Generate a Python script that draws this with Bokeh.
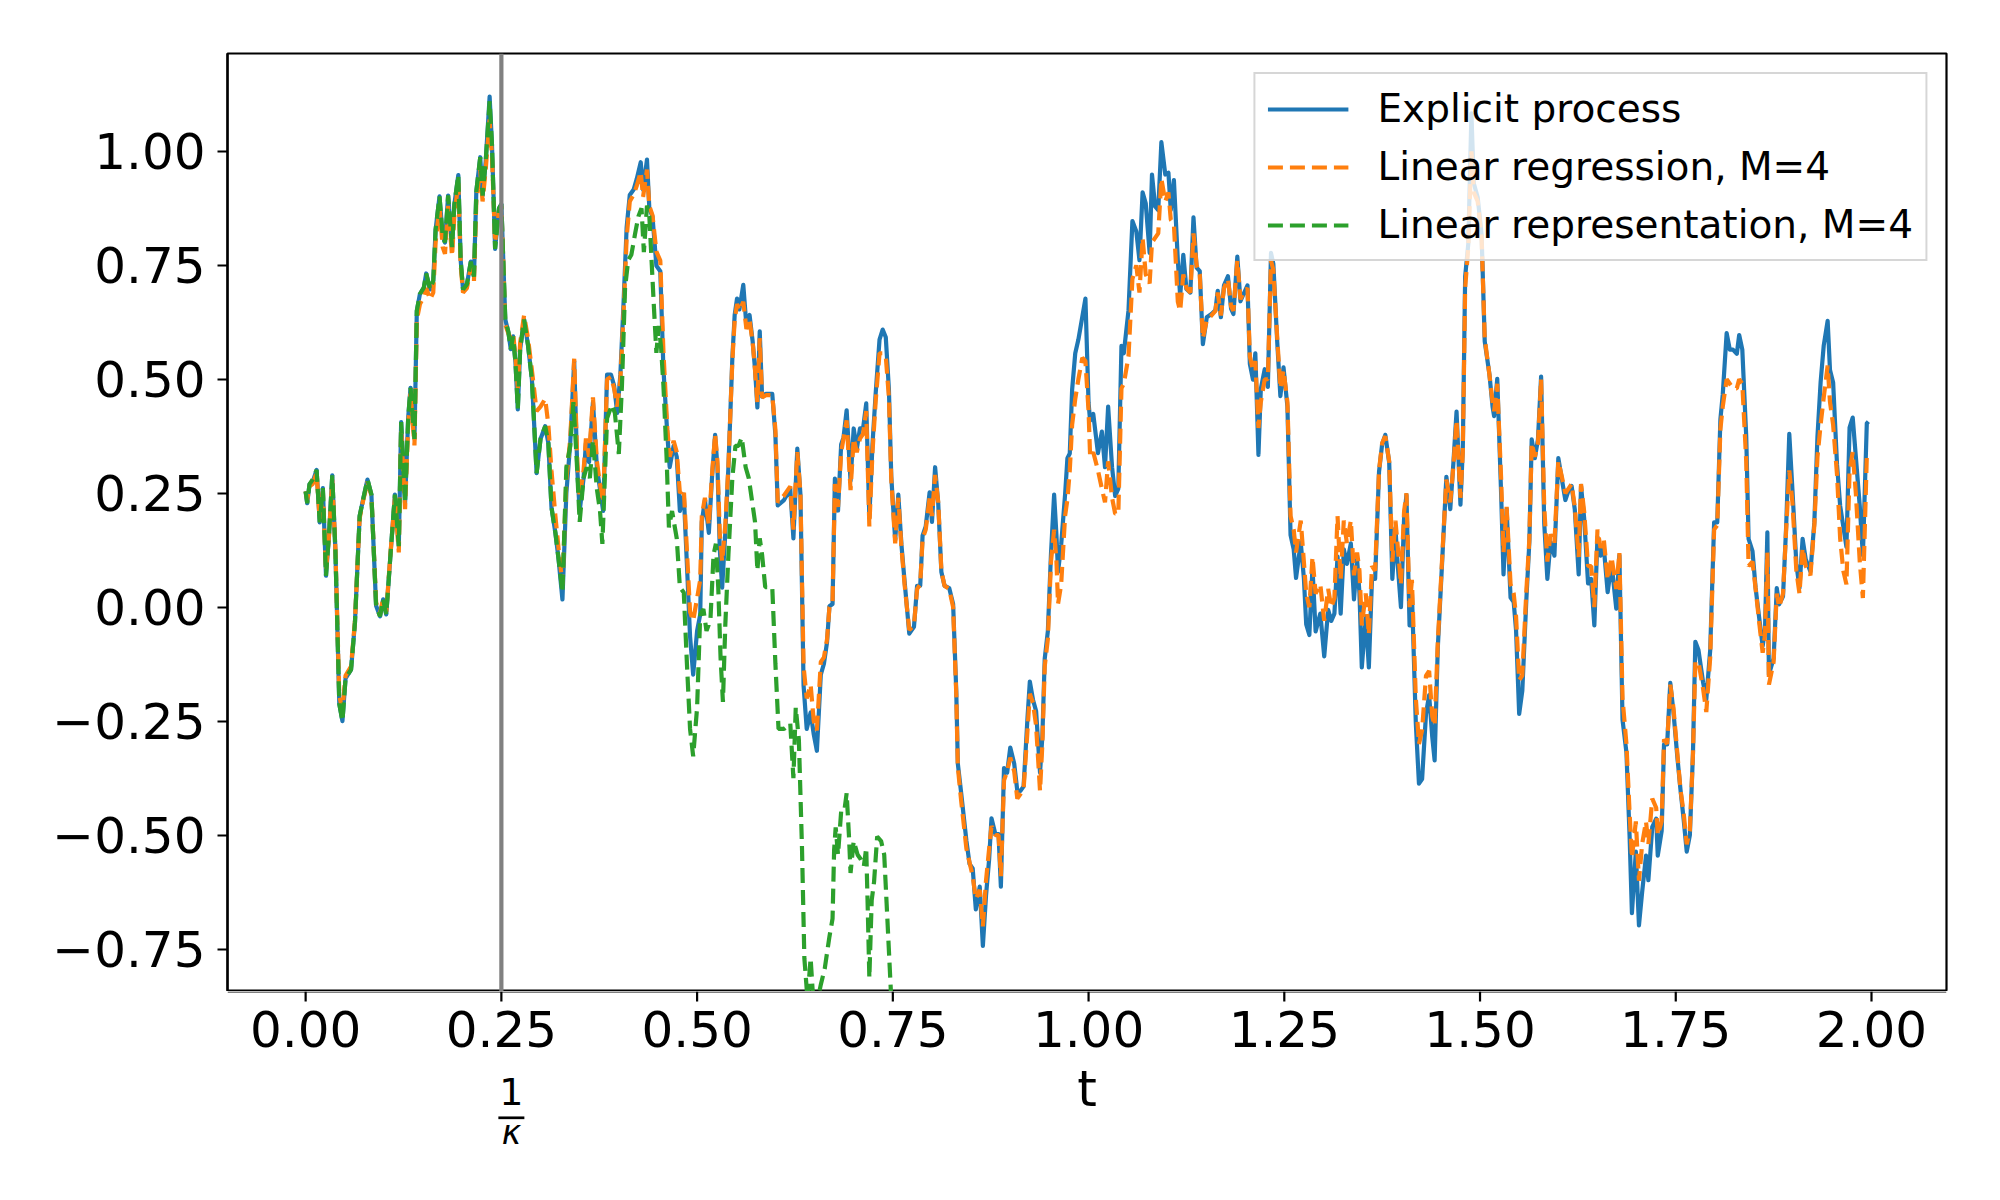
from bokeh.plotting import figure
from bokeh.layouts import column
from bokeh.models import (Range1d, FixedTicker, CustomJSTickFormatter, Span,
                          Legend, LegendItem)
from bokeh.core.properties import value
from bokeh.embed import file_html
from bokeh.resources import INLINE

# ---------------- data ----------------
t_explicit = [
    0.000, 0.002, 0.005, 0.009, 0.014, 0.018, 0.022, 0.026, 0.030, 0.034,
    0.038, 0.043, 0.047, 0.051, 0.058, 0.063, 0.069, 0.073, 0.079, 0.084,
    0.090, 0.095, 0.099, 0.103, 0.108, 0.114, 0.119, 0.122, 0.127, 0.131,
    0.134, 0.139, 0.142, 0.146, 0.151, 0.154, 0.159, 0.163, 0.166, 0.171,
    0.175, 0.178, 0.182, 0.187, 0.190, 0.195, 0.198, 0.201, 0.206, 0.211,
    0.215, 0.218, 0.223, 0.226, 0.230, 0.235, 0.238, 0.242, 0.247, 0.250,
    0.255, 0.259, 0.262, 0.265, 0.268, 0.271, 0.274, 0.279, 0.284, 0.289,
    0.295, 0.300, 0.306, 0.310, 0.314, 0.319, 0.323, 0.328, 0.333, 0.338,
    0.343, 0.347, 0.350, 0.355, 0.358, 0.362, 0.367, 0.372, 0.376, 0.380,
    0.385, 0.390, 0.394, 0.398, 0.402, 0.406, 0.410, 0.414, 0.419, 0.423,
    0.428, 0.431, 0.436, 0.439, 0.443, 0.448, 0.453, 0.457, 0.462, 0.465,
    0.470, 0.474, 0.478, 0.483, 0.488, 0.491, 0.495, 0.500, 0.504, 0.506,
    0.510, 0.515, 0.519, 0.523, 0.526, 0.529, 0.532, 0.536, 0.540, 0.545,
    0.548, 0.551, 0.554, 0.559, 0.563, 0.567, 0.571, 0.574, 0.577, 0.580,
    0.583, 0.588, 0.596, 0.600, 0.603, 0.611, 0.619, 0.623, 0.628, 0.632,
    0.636, 0.640, 0.645, 0.649, 0.653, 0.658, 0.662, 0.666, 0.669, 0.673,
    0.676, 0.680, 0.684, 0.687, 0.691, 0.696, 0.700, 0.704, 0.708, 0.712,
    0.716, 0.720, 0.724, 0.728, 0.733, 0.737, 0.741, 0.745, 0.748, 0.753,
    0.757, 0.761, 0.765, 0.771, 0.777, 0.781, 0.785, 0.788, 0.792, 0.797,
    0.800, 0.804, 0.808, 0.812, 0.816, 0.822, 0.827, 0.831, 0.833, 0.837,
    0.844, 0.848, 0.852, 0.856, 0.861, 0.865, 0.869, 0.873, 0.876, 0.881,
    0.885, 0.888, 0.892, 0.896, 0.900, 0.905, 0.909, 0.913, 0.917, 0.922,
    0.925, 0.929, 0.933, 0.938, 0.941, 0.944, 0.948, 0.952, 0.956, 0.959,
    0.961, 0.965, 0.970, 0.973, 0.976, 0.979, 0.983, 0.987, 0.992, 0.996,
    1.000, 1.002, 1.006, 1.012, 1.017, 1.021, 1.025, 1.030, 1.034, 1.038,
    1.042, 1.045, 1.051, 1.056, 1.061, 1.065, 1.069, 1.073, 1.078, 1.081,
    1.085, 1.089, 1.093, 1.098, 1.102, 1.105, 1.109, 1.114, 1.117, 1.121,
    1.125, 1.130, 1.134, 1.138, 1.142, 1.146, 1.151, 1.157, 1.162, 1.165,
    1.169, 1.173, 1.178, 1.182, 1.185, 1.190, 1.194, 1.198, 1.203, 1.206,
    1.210, 1.213, 1.217, 1.220, 1.225, 1.229, 1.233, 1.236, 1.241, 1.245,
    1.249, 1.254, 1.258, 1.262, 1.265, 1.271, 1.275, 1.278, 1.282, 1.286,
    1.290, 1.296, 1.301, 1.306, 1.310, 1.314, 1.318, 1.322, 1.326, 1.330,
    1.335, 1.339, 1.343, 1.346, 1.349, 1.354, 1.358, 1.362, 1.366, 1.371,
    1.375, 1.379, 1.384, 1.388, 1.392, 1.394, 1.399, 1.403, 1.406, 1.410,
    1.413, 1.418, 1.422, 1.426, 1.431, 1.435, 1.439, 1.442, 1.446, 1.452,
    1.457, 1.462, 1.466, 1.470, 1.475, 1.478, 1.481, 1.485, 1.489, 1.492,
    1.497, 1.502, 1.506, 1.512, 1.516, 1.518, 1.522, 1.527, 1.530, 1.534,
    1.539, 1.543, 1.546, 1.550, 1.554, 1.559, 1.563, 1.566, 1.570, 1.574,
    1.578, 1.582, 1.586, 1.590, 1.595, 1.600, 1.604, 1.609, 1.613, 1.617,
    1.621, 1.626, 1.629, 1.633, 1.638, 1.642, 1.646, 1.650, 1.654, 1.658,
    1.663, 1.668, 1.674, 1.678, 1.682, 1.687, 1.691, 1.694, 1.699, 1.703,
    1.707, 1.712, 1.715, 1.720, 1.725, 1.727, 1.732, 1.735, 1.739, 1.743,
    1.747, 1.752, 1.756, 1.760, 1.764, 1.768, 1.772, 1.775, 1.779, 1.785,
    1.789, 1.794, 1.799, 1.803, 1.807, 1.810, 1.815, 1.819, 1.823, 1.828,
    1.831, 1.835, 1.840, 1.843, 1.848, 1.852, 1.857, 1.861, 1.864, 1.867,
    1.869, 1.875, 1.879, 1.882, 1.887, 1.891, 1.895, 1.899, 1.904, 1.908,
    1.912, 1.916, 1.922, 1.927, 1.931, 1.935, 1.939, 1.944, 1.947, 1.951,
    1.956, 1.960, 1.964, 1.968, 1.972, 1.976, 1.980, 1.985, 1.989, 1.994,
    1.996,
]

y_explicit = [
    0.254, 0.228, 0.270, 0.275, 0.301, 0.186, 0.261, 0.069, 0.163, 0.289,
    0.125, -0.212, -0.250, -0.156, -0.137, -0.034, 0.200, 0.233, 0.280, 0.247,
    0.003, -0.020, 0.017, -0.016, 0.106, 0.247, 0.134, 0.406, 0.228, 0.416,
    0.481, 0.369, 0.650, 0.687, 0.701, 0.732, 0.697, 0.716, 0.828, 0.901,
    0.814, 0.800, 0.903, 0.790, 0.884, 0.948, 0.762, 0.697, 0.708, 0.758,
    0.725, 0.912, 0.987, 0.903, 0.978, 1.120, 1.015, 0.786, 0.875, 0.884,
    0.631, 0.603, 0.566, 0.594, 0.537, 0.434, 0.566, 0.631, 0.575, 0.500,
    0.294, 0.369, 0.397, 0.360, 0.219, 0.163, 0.106, 0.017, 0.250, 0.360,
    0.540, 0.300, 0.211, 0.283, 0.360, 0.318, 0.450, 0.307, 0.259, 0.211,
    0.510, 0.510, 0.486, 0.426, 0.510, 0.665, 0.833, 0.904, 0.916, 0.940,
    0.976, 0.916, 0.982, 0.874, 0.857, 0.749, 0.737, 0.522, 0.378, 0.307,
    0.354, 0.330, 0.211, 0.247, 0.055, -0.064, -0.148, -0.052, -0.016, 0.187,
    0.235, 0.163, 0.283, 0.378, 0.307, 0.127, 0.043, 0.163, 0.307, 0.546,
    0.641, 0.677, 0.653, 0.707, 0.617, 0.641, 0.582, 0.522, 0.438, 0.605,
    0.462, 0.468, 0.468, 0.378, 0.223, 0.235, 0.259, 0.151, 0.348, 0.247,
    -0.172, -0.267, -0.231, -0.279, -0.315, -0.148, -0.124, -0.076, 0.002, 0.007,
    0.282, 0.212, 0.357, 0.372, 0.432, 0.277, 0.392, 0.347, 0.392, 0.392,
    0.447, 0.197, 0.357, 0.467, 0.587, 0.609, 0.592, 0.477, 0.287, 0.147,
    0.247, 0.137, 0.057, -0.058, -0.043, 0.047, 0.047, 0.157, 0.177, 0.252,
    0.187, 0.307, 0.227, 0.077, 0.047, 0.042, 0.007, -0.183, -0.343, -0.403,
    -0.513, -0.563, -0.573, -0.663, -0.613, -0.743, -0.633, -0.553, -0.463, -0.498,
    -0.498, -0.613, -0.353, -0.363, -0.308, -0.343, -0.403, -0.403, -0.393, -0.243,
    -0.163, -0.203, -0.228, -0.363, -0.283, -0.113, -0.053, 0.117, 0.247, 0.157,
    0.077, 0.137, 0.247, 0.327, 0.337, 0.477, 0.557, 0.587, 0.637, 0.677,
    0.448, 0.409, 0.424, 0.338, 0.385, 0.307, 0.440, 0.307, 0.244, 0.260,
    0.573, 0.557, 0.651, 0.847, 0.824, 0.761, 0.910, 0.886, 0.777, 0.949,
    0.879, 0.871, 1.020, 0.949, 0.953, 0.871, 0.937, 0.761, 0.683, 0.773,
    0.698, 0.690, 0.855, 0.745, 0.737, 0.577, 0.636, 0.643, 0.651, 0.694,
    0.636, 0.706, 0.726, 0.655, 0.643, 0.769, 0.671, 0.687, 0.706, 0.534,
    0.499, 0.557, 0.334, 0.479, 0.522, 0.483, 0.777, 0.753, 0.581, 0.463,
    0.526, 0.440, 0.158, 0.127, 0.064, 0.142, 0.064, -0.038, -0.061, 0.087,
    -0.053, -0.014, -0.108, -0.006, -0.030, -0.014, 0.111, -0.014, 0.127, 0.095,
    0.140, 0.017, 0.105, 0.031, -0.132, -0.020, -0.132, 0.062, 0.062, 0.297,
    0.358, 0.378, 0.317, 0.062, 0.174, 0.113, 0.000, 0.195, 0.246, -0.040,
    0.031, -0.255, -0.387, -0.377, -0.234, -0.193, -0.285, -0.336, -0.091, 0.113,
    0.286, 0.215, 0.317, 0.429, 0.225, 0.348, 0.725, 0.797, 1.083, 0.930,
    0.899, 0.817, 0.583, 0.511, 0.440, 0.419, 0.501, 0.246, 0.072, 0.215,
    0.021, 0.011, -0.050, -0.234, -0.183, 0.011, 0.143, 0.368, 0.327, 0.368,
    0.506, 0.184, 0.062, 0.143, 0.113, 0.327, 0.286, 0.235, 0.256, 0.266,
    0.215, 0.072, 0.266, 0.195, 0.052, 0.062, -0.040, 0.154, 0.113, 0.133,
    0.033, 0.096, -0.003, 0.114, -0.247, -0.319, -0.500, -0.671, -0.536, -0.698,
    -0.626, -0.545, -0.599, -0.482, -0.464, -0.545, -0.491, -0.301, -0.301, -0.166,
    -0.229, -0.328, -0.400, -0.464, -0.536, -0.500, -0.319, -0.076, -0.094, -0.166,
    -0.202, -0.094, 0.186, 0.186, 0.412, 0.466, 0.601, 0.565, 0.565, 0.556,
    0.597, 0.565, 0.375, 0.150, 0.123, 0.042, -0.030, -0.085, -0.049, 0.164,
    -0.148, -0.112, 0.042, 0.006, 0.024, 0.177, 0.380, 0.258, 0.096, 0.042,
    0.150, 0.105, 0.078, 0.186, 0.375, 0.493, 0.574, 0.628, 0.520, 0.493,
    0.312, 0.222, 0.177, 0.132, 0.394, 0.416, 0.330, 0.222, 0.114, 0.403,
    0.407,
]

y_regression = [
    0.254, 0.235, 0.265, 0.270, 0.295, 0.190, 0.255, 0.080, 0.160, 0.280,
    0.130, -0.195, -0.225, -0.150, -0.130, -0.030, 0.195, 0.230, 0.275, 0.245,
    0.010, -0.015, 0.020, -0.010, 0.110, 0.240, 0.120, 0.390, 0.215, 0.400,
    0.470, 0.355, 0.630, 0.665, 0.680, 0.700, 0.675, 0.690, 0.800, 0.880,
    0.790, 0.775, 0.880, 0.770, 0.860, 0.930, 0.750, 0.690, 0.700, 0.745,
    0.715, 0.890, 0.960, 0.890, 0.960, 1.070, 0.990, 0.800, 0.870, 0.880,
    0.620, 0.600, 0.590, 0.600, 0.550, 0.480, 0.580, 0.640, 0.590, 0.520,
    0.430, 0.440, 0.457, 0.400, 0.300, 0.200, 0.130, 0.050, 0.280, 0.370,
    0.545, 0.320, 0.240, 0.300, 0.370, 0.330, 0.460, 0.320, 0.270, 0.230,
    0.500, 0.505, 0.480, 0.440, 0.500, 0.640, 0.810, 0.890, 0.905, 0.925,
    0.955, 0.900, 0.960, 0.880, 0.860, 0.780, 0.760, 0.560, 0.390, 0.330,
    0.365, 0.340, 0.250, 0.260, 0.090, -0.010, -0.030, 0.020, 0.060, 0.200,
    0.240, 0.180, 0.290, 0.380, 0.320, 0.160, 0.100, 0.180, 0.310, 0.540,
    0.630, 0.665, 0.650, 0.670, 0.610, 0.630, 0.580, 0.520, 0.450, 0.590,
    0.460, 0.465, 0.465, 0.390, 0.230, 0.245, 0.265, 0.170, 0.340, 0.250,
    -0.130, -0.200, -0.170, -0.250, -0.270, -0.120, -0.110, -0.070, 0.000, 0.010,
    0.270, 0.220, 0.340, 0.370, 0.410, 0.257, 0.370, 0.340, 0.370, 0.380,
    0.430, 0.177, 0.340, 0.450, 0.557, 0.557, 0.550, 0.460, 0.280, 0.140,
    0.240, 0.130, 0.050, -0.050, -0.040, 0.040, 0.050, 0.150, 0.170, 0.240,
    0.200, 0.290, 0.230, 0.080, 0.047, 0.040, 0.000, -0.190, -0.350, -0.420,
    -0.530, -0.560, -0.590, -0.640, -0.620, -0.700, -0.600, -0.530, -0.480, -0.500,
    -0.500, -0.590, -0.380, -0.360, -0.330, -0.360, -0.420, -0.410, -0.400, -0.270,
    -0.190, -0.210, -0.260, -0.403, -0.300, -0.130, -0.070, 0.100, 0.170, 0.100,
    0.007, 0.050, 0.200, 0.237, 0.300, 0.400, 0.457, 0.500, 0.547, 0.540,
    0.430, 0.330, 0.340, 0.300, 0.260, 0.230, 0.320, 0.240, 0.205, 0.205,
    0.480, 0.490, 0.550, 0.720, 0.750, 0.690, 0.810, 0.730, 0.710, 0.800,
    0.810, 0.820, 0.940, 0.890, 0.910, 0.850, 0.840, 0.670, 0.650, 0.730,
    0.700, 0.690, 0.820, 0.750, 0.730, 0.590, 0.630, 0.640, 0.650, 0.690,
    0.640, 0.700, 0.720, 0.660, 0.650, 0.760, 0.675, 0.690, 0.700, 0.550,
    0.520, 0.540, 0.393, 0.450, 0.500, 0.500, 0.760, 0.740, 0.590, 0.480,
    0.520, 0.450, 0.200, 0.170, 0.120, 0.190, 0.100, 0.030, 0.000, 0.110,
    0.030, 0.050, -0.030, 0.040, 0.000, 0.020, 0.200, 0.060, 0.190, 0.140,
    0.190, 0.070, 0.120, 0.080, -0.040, 0.030, -0.060, 0.090, 0.080, 0.300,
    0.360, 0.375, 0.320, 0.100, 0.190, 0.150, 0.050, 0.210, 0.250, 0.000,
    0.060, -0.200, -0.300, -0.270, -0.150, -0.140, -0.240, -0.260, -0.080, 0.120,
    0.280, 0.230, 0.310, 0.410, 0.240, 0.340, 0.700, 0.790, 1.000, 0.910,
    0.890, 0.810, 0.590, 0.510, 0.450, 0.430, 0.490, 0.280, 0.120, 0.220,
    0.050, 0.030, -0.020, -0.160, -0.150, 0.030, 0.150, 0.360, 0.330, 0.360,
    0.500, 0.220, 0.100, 0.160, 0.140, 0.320, 0.290, 0.250, 0.260, 0.270,
    0.220, 0.110, 0.270, 0.210, 0.090, 0.090, 0.000, 0.170, 0.130, 0.150,
    0.060, 0.110, 0.040, 0.120, -0.200, -0.300, -0.450, -0.550, -0.470, -0.600,
    -0.520, -0.470, -0.520, -0.420, -0.440, -0.500, -0.470, -0.290, -0.300, -0.170,
    -0.220, -0.320, -0.400, -0.450, -0.520, -0.490, -0.320, -0.120, -0.120, -0.180,
    -0.230, -0.110, 0.170, 0.180, 0.390, 0.440, 0.500, 0.490, 0.480, 0.480,
    0.500, 0.490, 0.320, 0.090, 0.100, 0.040, -0.040, -0.100, -0.060, 0.120,
    -0.170, -0.120, 0.030, 0.000, 0.030, 0.170, 0.300, 0.230, 0.080, 0.030,
    0.130, 0.090, 0.070, 0.180, 0.330, 0.400, 0.460, 0.530, 0.450, 0.400,
    0.290, 0.150, 0.080, 0.050, 0.300, 0.340, 0.250, 0.100, 0.020, 0.330,
    0.330,
]

t_representation = [
    0.000, 0.002, 0.005, 0.009, 0.014, 0.018, 0.022, 0.026, 0.030, 0.034,
    0.038, 0.043, 0.047, 0.051, 0.058, 0.063, 0.069, 0.073, 0.079, 0.084,
    0.090, 0.095, 0.099, 0.103, 0.108, 0.114, 0.119, 0.122, 0.127, 0.131,
    0.134, 0.139, 0.142, 0.146, 0.151, 0.154, 0.159, 0.163, 0.166, 0.171,
    0.175, 0.178, 0.182, 0.187, 0.190, 0.195, 0.198, 0.201, 0.206, 0.211,
    0.215, 0.218, 0.223, 0.226, 0.230, 0.235, 0.238, 0.242, 0.247, 0.250,
    0.255, 0.259, 0.262, 0.265, 0.268, 0.271, 0.274, 0.279, 0.284, 0.289,
    0.295, 0.300, 0.306, 0.310, 0.314, 0.319, 0.323, 0.328, 0.333, 0.338,
    0.342, 0.346, 0.350, 0.355, 0.359, 0.363, 0.367, 0.372, 0.376, 0.379,
    0.385, 0.391, 0.395, 0.400, 0.404, 0.408, 0.412, 0.416, 0.421, 0.425,
    0.429, 0.432, 0.436, 0.439, 0.442, 0.445, 0.448, 0.451, 0.454, 0.457,
    0.461, 0.464, 0.468, 0.474, 0.478, 0.483, 0.487, 0.491, 0.495, 0.500,
    0.504, 0.508, 0.512, 0.517, 0.521, 0.524, 0.527, 0.530, 0.533, 0.536,
    0.540, 0.545, 0.549, 0.553, 0.557, 0.562, 0.566, 0.570, 0.574, 0.577,
    0.580, 0.583, 0.587, 0.596, 0.600, 0.604, 0.611, 0.619, 0.623, 0.626,
    0.630, 0.634, 0.637, 0.641, 0.645, 0.649, 0.653, 0.658, 0.663, 0.669,
    0.673, 0.675, 0.677, 0.680, 0.684, 0.688, 0.691, 0.694, 0.696, 0.700,
    0.705, 0.709, 0.713, 0.716, 0.718, 0.720, 0.723, 0.726, 0.730, 0.735,
    0.739, 0.743, 0.748, 0.750,
]

y_representation = [
    0.254, 0.228, 0.270, 0.280, 0.301, 0.186, 0.261, 0.069, 0.163, 0.289,
    0.125, -0.212, -0.250, -0.156, -0.137, -0.034, 0.200, 0.233, 0.280, 0.247,
    0.003, -0.020, 0.017, -0.016, 0.106, 0.247, 0.134, 0.406, 0.228, 0.416,
    0.481, 0.369, 0.650, 0.687, 0.701, 0.732, 0.697, 0.716, 0.828, 0.901,
    0.814, 0.800, 0.903, 0.790, 0.884, 0.948, 0.762, 0.697, 0.708, 0.758,
    0.725, 0.912, 0.987, 0.903, 0.978, 1.110, 1.015, 0.786, 0.875, 0.884,
    0.631, 0.603, 0.566, 0.594, 0.537, 0.434, 0.566, 0.631, 0.575, 0.500,
    0.294, 0.369, 0.397, 0.360, 0.219, 0.163, 0.106, 0.032, 0.307, 0.354,
    0.450, 0.330, 0.187, 0.283, 0.307, 0.283, 0.366, 0.259, 0.211, 0.139,
    0.414, 0.444, 0.426, 0.336, 0.486, 0.701, 0.761, 0.773, 0.821, 0.857,
    0.875, 0.779, 0.881, 0.857, 0.755, 0.653, 0.558, 0.617, 0.570, 0.486,
    0.330, 0.175, 0.211, 0.151, 0.044, 0.032, -0.124, -0.267, -0.327, -0.220,
    -0.016, -0.004, -0.052, -0.028, 0.115, 0.139, 0.044, -0.112, -0.208, -0.040,
    0.115, 0.283, 0.354, 0.354, 0.372, 0.307, 0.283, 0.235, 0.187, 0.080,
    0.151, 0.115, 0.044, 0.044, -0.124, -0.267, -0.267, -0.255, -0.375, -0.220,
    -0.291, -0.530, -0.770, -0.860, -0.770, -0.880, -0.870, -0.828, -0.793, -0.723,
    -0.683, -0.533, -0.483, -0.543, -0.448, -0.448, -0.408, -0.503, -0.583, -0.513,
    -0.543, -0.553, -0.568, -0.528, -0.663, -0.813, -0.643, -0.603, -0.503, -0.513,
    -0.543, -0.683, -0.860, -0.950,
]

x_ticks = [0.0, 0.25, 0.5, 0.75, 1.0, 1.25, 1.5, 1.75, 2.0]
x_tick_labels = ["0.00", "0.25", "0.50", "0.75", "1.00", "1.25", "1.50", "1.75", "2.00"]
y_ticks = [-0.75, -0.5, -0.25, 0.0, 0.25, 0.5, 0.75, 1.0]
kappa_marker = 0.25
x_label = "t"
kappa_num, kappa_den = "1", "\u03ba"

labels = ["Explicit process", "Linear regression, M=4", "Linear representation, M=4"]
colors = ["#1f77b4", "#ff7f0e", "#2ca02c"]

FONT = "DejaVu Sans"
X0, X1 = -0.0998, 2.0958
Y0, Y1 = -0.843, 1.2145
FRAME_W, FRAME_H = 1719, 938
LEFT, RIGHT, TOP = 227, 46, 53
STRIP_H = 201          # strip under the plot box (x axis ticks, tick labels, x label)
TEXT_DROP = 0.4        # text glyphs land about 0.4 * font size below their anchor here

x_range = Range1d(X0, X1)

# ---------------- main figure (plot box, y axis, legend) ----------------
p = figure(frame_width=FRAME_W, frame_height=FRAME_H, title=None,
           x_range=x_range, y_range=Range1d(Y0, Y1),
           x_axis_location=None,
           output_backend="svg", toolbar_location=None,
           min_border_left=LEFT, min_border_right=RIGHT,
           min_border_top=TOP, min_border_bottom=0,
           background_fill_color="white", border_fill_color="white")

p.xgrid.visible = False
p.ygrid.visible = False
p.outline_line_color = "black"
p.outline_line_width = 2.2
p.outline_line_alpha = 1.0

r_exp = p.line(t_explicit, y_explicit, line_color=colors[0], line_width=4.2,
               line_join="round")
r_reg = p.line(t_explicit, y_regression, line_color=colors[1], line_width=4.2,
               line_dash="15 7")
r_rep = p.line(t_representation, y_representation, line_color=colors[2],
               line_width=4.2, line_dash="15 7")

p.add_layout(Span(location=kappa_marker, dimension="height", line_color="#808080",
                  line_width=4.2))

yax = p.yaxis[0]
yax.axis_line_width = 2.2
yax.axis_line_color = "black"
yax.major_tick_line_width = 2.2
yax.major_tick_line_color = "black"
yax.major_tick_out = 10
yax.major_tick_in = 0
yax.minor_tick_out = 0
yax.minor_tick_in = 0
yax.major_label_text_font = FONT
yax.major_label_text_font_size = "50px"
yax.major_label_text_color = "black"
yax.ticker = FixedTicker(ticks=y_ticks)
yax.formatter = CustomJSTickFormatter(
    code="return (tick < -1e-9 ? '\\u2212' : '') + Math.abs(tick).toFixed(2);")
yax.major_label_standoff = 12

legend = Legend(items=[LegendItem(label=labels[0], renderers=[r_exp]),
                       LegendItem(label=labels[1], renderers=[r_reg]),
                       LegendItem(label=labels[2], renderers=[r_rep])],
                location="top_right",
                label_text_font=FONT, label_text_font_size="39px",
                label_text_color="black", label_text_baseline="middle",
                glyph_width=81, glyph_height=40, label_height=40,
                spacing=13, padding=12, margin=19, label_standoff=29,
                border_line_color="#cccccc", border_line_width=2.5,
                border_line_alpha=0.8, background_fill_color="white",
                background_fill_alpha=0.8)
p.add_layout(legend)

# ---------------- strip under the box: x ticks, tick labels, "t", 1/kappa ----------------
# y of this strip is measured in pixels downward from the bottom edge of the plot box
s = figure(frame_width=FRAME_W, frame_height=STRIP_H, title=None,
           x_range=x_range, y_range=Range1d(STRIP_H, 0),
           output_backend="svg", toolbar_location=None,
           x_axis_location=None, y_axis_location=None,
           min_border_left=LEFT, min_border_right=RIGHT,
           min_border_top=0, min_border_bottom=0,
           background_fill_color=None, border_fill_color=None)
s.xgrid.visible = False
s.ygrid.visible = False
s.outline_line_color = None


def baseline(target, size_px):
    """Anchor for a text glyph whose baseline should sit at `target` px."""
    return target - TEXT_DROP * size_px


# lower half of the box's bottom edge
s.segment(x0=[X0], x1=[X1], y0=[0.55], y1=[0.55], line_color="black", line_width=1.1)
# x tick marks
s.segment(x0=x_ticks, x1=x_ticks, y0=[0] * len(x_ticks), y1=[10] * len(x_ticks),
          line_color="black", line_width=2.2)
# x tick labels
s.text(x=x_ticks, y=[baseline(57.3, 50)] * len(x_ticks), text=x_tick_labels,
       text_font=value(FONT), text_font_size=value("50px"), text_align="center",
       text_baseline="alphabetic", text_color="black")

x_mid = (X0 + X1) / 2.0
px_x = FRAME_W / (X1 - X0)
kx = kappa_marker + 10 / px_x          # fraction sits a little right of the tick
half_bar = 13 / px_x

s.text(x=[x_mid], y=[baseline(117, 50)], text=[x_label], text_font=value(FONT),
       text_font_size=value("50px"), text_align="center",
       text_baseline="alphabetic", text_color="black")
s.text(x=[kx], y=[baseline(115, 38)], text=[kappa_num], text_font=value(FONT),
       text_font_size=value("38px"), text_align="center",
       text_baseline="alphabetic", text_color="black")
s.segment(x0=[kx - half_bar], x1=[kx + half_bar], y0=[126.3], y1=[126.3],
          line_color="black", line_width=2.7)
s.text(x=[kx], y=[baseline(154, 33)], text=[kappa_den], text_font=value(FONT),
       text_font_size=value("33px"), text_font_style="italic",
       text_align="center", text_baseline="alphabetic", text_color="black")

layout = column(p, s, spacing=0)
open("out.html", "w").write(file_html(layout, INLINE))
